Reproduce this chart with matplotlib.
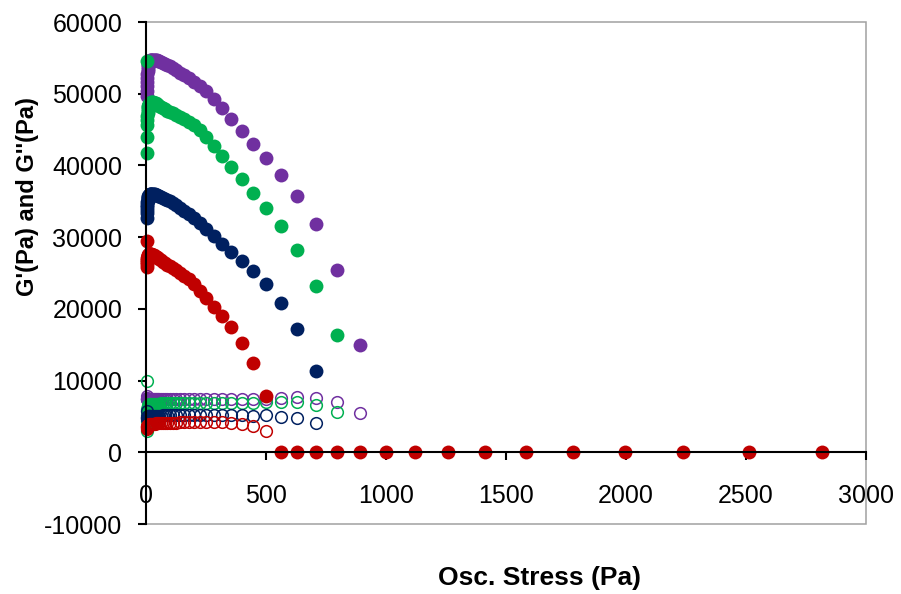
import matplotlib
matplotlib.use("Agg")
import matplotlib.pyplot as plt
from matplotlib.patches import Rectangle

plt.rcParams['font.family'] = ['Liberation Sans', 'DejaVu Sans']
plt.rcParams['axes.unicode_minus'] = False

# oscillation stress steps (Pa), 20 per decade
stress = [3.162, 3.548, 3.981, 4.467, 5.012, 5.623, 6.310, 7.079, 7.943, 8.913,
          10.00, 11.22, 12.59, 14.13, 15.85, 17.78, 19.95, 22.39, 25.12, 28.18,
          31.62, 35.48, 39.81, 44.67, 50.12, 56.23, 63.10, 70.79, 79.43, 89.13,
          100.0, 112.2, 125.9, 141.3, 158.5, 177.8, 199.5, 223.9, 251.2, 281.8,
          316.2, 354.8, 398.1, 446.7, 501.2, 562.3, 631.0, 707.9, 794.3, 891.3,
          1000, 1122, 1259, 1413, 1585, 1778, 1995, 2239, 2512, 2818]

# storage modulus G' (Pa)
g1_purple = [49700, 50400, 51100, 51700, 52200, 52700, 53100, 53400, 53700, 53950,
             54150, 54300, 54450, 54550, 54600, 54650, 54700, 54700, 54700, 54700,
             54700, 54700, 54700, 54650, 54600, 54550, 54450, 54350, 54200, 54000,
             53800, 53550, 53250, 52900, 52550, 52150, 51700, 51100, 50400, 49250,
             48000, 46450, 44850, 43000, 41000, 38700, 35750, 31900, 25400, 14900]
g1_green = [54600, 41700, 44000, 45600, 46400, 46900, 47300, 47650, 47900, 48100,
            48250, 48400, 48500, 48600, 48650, 48700, 48750, 48800, 48800, 48800,
            48750, 48700, 48650, 48550, 48450, 48300, 48150, 48000, 47800, 47600,
            47450, 47250, 47000, 46750, 46450, 46100, 45650, 44950, 43950, 42650,
            41350, 39800, 38100, 36200, 34000, 31600, 28150, 23250, 16400]
g1_navy = [32700, 33300, 33800, 34200, 34550, 34850, 35100, 35300, 35450, 35600,
           35700, 35780, 35850, 35900, 35950, 35980, 36000, 36000, 36000, 36000,
           35980, 35950, 35900, 35850, 35780, 35700, 35600, 35480, 35350, 35200,
           35000, 34750, 34450, 34100, 33700, 33250, 32700, 32000, 31100, 30100,
           29050, 27900, 26700, 25300, 23500, 20750, 17250, 11400]
g1_red = [29400, 25900, 26300, 26600, 26850, 27050, 27200, 27300, 27400, 27450,
          27500, 27550, 27600, 27600, 27600, 27600, 27600, 27600, 27550, 27500,
          27450, 27400, 27300, 27200, 27100, 26950, 26800, 26600, 26400, 26150,
          25950, 25650, 25350, 25000, 24600, 24100, 23400, 22550, 21450, 20250,
          18950, 17500, 15250, 12450, 7900, 0, 0, 0, 0, 0,
          0, 0, 0, 0, 0, 0, 0, 0, 0, 0]

# loss modulus G'' (Pa)
g2_purple = [7800, 7600, 7500, 7450, 7400, 7400, 7400, 7400, 7400, 7400,
             7400, 7400, 7400, 7400, 7420, 7420, 7420, 7420, 7450, 7450,
             7450, 7450, 7450, 7450, 7450, 7450, 7450, 7450, 7450, 7450,
             7450, 7450, 7450, 7450, 7450, 7450, 7450, 7450, 7450, 7450,
             7470, 7470, 7470, 7470, 7470, 7600, 7750, 7600, 7050, 5500]
g2_green = [10000, 3000, 4300, 5200, 5700, 6000, 6200, 6350, 6450, 6500,
            6550, 6600, 6650, 6650, 6700, 6700, 6700, 6750, 6750, 6750,
            6750, 6800, 6800, 6800, 6800, 6800, 6850, 6850, 6850, 6850,
            6850, 6850, 6900, 6900, 6900, 6900, 6900, 6900, 6900, 6900,
            6920, 6920, 6920, 6920, 7000, 7050, 7050, 6550, 5600]
g2_navy = [5700, 4700, 4800, 4850, 4900, 4950, 4950, 5000, 5000, 5000,
           5050, 5050, 5050, 5050, 5100, 5100, 5100, 5100, 5100, 5100,
           5100, 5100, 5100, 5100, 5100, 5100, 5100, 5150, 5150, 5150,
           5150, 5150, 5150, 5150, 5150, 5150, 5150, 5150, 5150, 5150,
           5150, 5150, 5150, 5050, 5150, 4950, 4750, 4050]
g2_red = [3300, 3400, 3500, 3550, 3600, 3650, 3700, 3750, 3750, 3800,
          3800, 3850, 3850, 3900, 3900, 3900, 3950, 3950, 3950, 4000,
          4000, 4000, 4050, 4050, 4050, 4100, 4100, 4100, 4100, 4150,
          4150, 4150, 4150, 4200, 4200, 4200, 4200, 4200, 4200, 4200,
          4220, 4130, 3900, 3650, 2950]

series = [
    ('#7030A0', g1_purple, g2_purple),
    ('#00B050', g1_green, g2_green),
    ('#002060', g1_navy, g2_navy),
    ('#C00000', g1_red, g2_red),
]

fig = plt.figure(figsize=(9.01, 5.94), dpi=100)
ax = fig.add_axes([146 / 901, 70 / 594, 720 / 901, 502 / 594])

for color, g1, g2 in series:
    ax.plot(stress[:len(g2)], g2, 'o', mfc='none', mec=color, ms=8.4, mew=1.1,
            clip_on=False, zorder=3)
    ax.plot(stress[:len(g1)], g1, 'o', color=color, ms=10, mew=0,
            clip_on=False, zorder=4)

ax.set_xlim(0, 3000)
ax.set_ylim(-10000, 60000)
ax.set_xticks(range(0, 3001, 500))
ax.set_yticks(range(-10000, 60001, 10000))

# light grey plot-area frame, black axes crossing at the origin
ax.add_patch(Rectangle((0, 0), 1, 1, transform=ax.transAxes, fill=False,
                       edgecolor='#A0A0A0', lw=1.1, zorder=1, clip_on=False))
for side in ('top', 'right'):
    ax.spines[side].set_visible(False)
ax.spines['left'].set_position(('data', 0))
ax.spines['bottom'].set_position(('data', 0))
ax.spines['left'].set_linewidth(1.5)
ax.spines['bottom'].set_linewidth(1.5)
ax.spines['left'].set_zorder(5)
ax.spines['bottom'].set_zorder(5)

ax.tick_params(axis='y', direction='out', length=6, width=1.5, pad=11, labelsize=18)
ax.tick_params(axis='x', direction='out', length=5.5, width=1.5, pad=17, labelsize=18)

fig.text(28 / 901, 1 - 197 / 594, "G'(Pa) and G''(Pa)", rotation=90,
         fontsize=17, fontweight='bold', ha='center', va='center')
fig.text(540 / 901, 1 - 578 / 594, 'Osc. Stress (Pa)',
         fontsize=19, fontweight='bold', ha='center', va='center')

fig.savefig('out.png', dpi=100)
